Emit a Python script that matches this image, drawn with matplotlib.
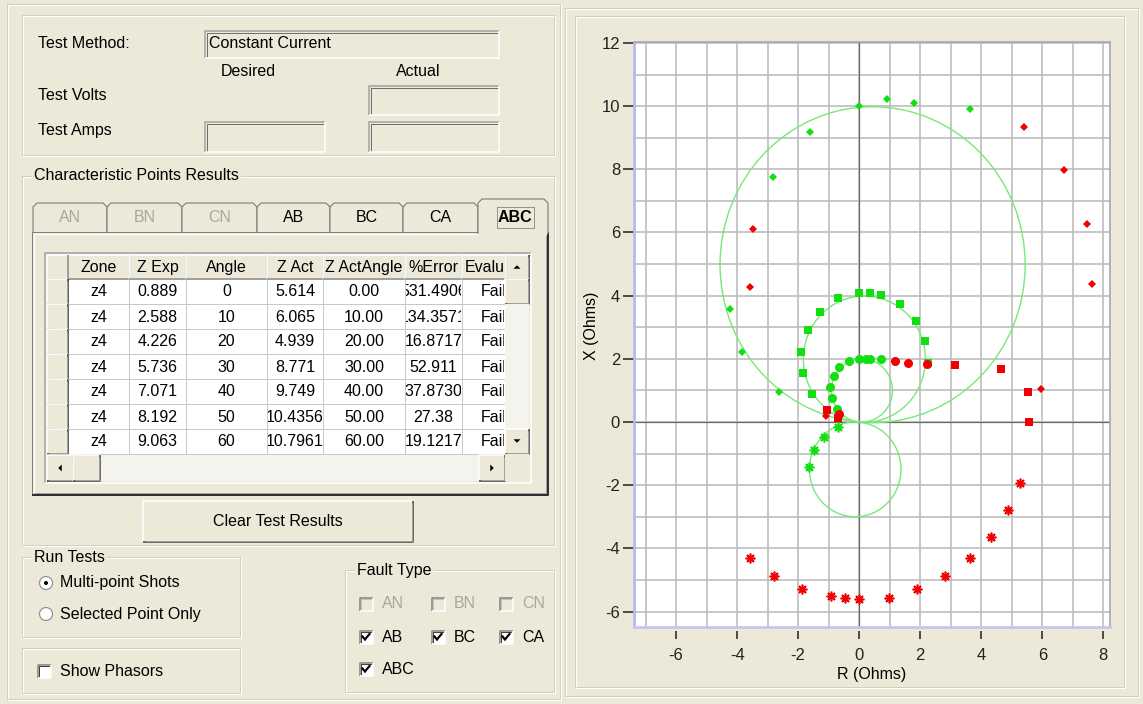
import numpy as np
import matplotlib
matplotlib.use('Agg')
import matplotlib.pyplot as plt
from matplotlib.patches import Rectangle, Circle, Polygon

plt.rcParams['font.family'] = ['Liberation Sans', 'DejaVu Sans']

# ---- colours of the old windows look
BG = '#ECE9D8'
DIS = '#ACA899'
LINE = '#D0D0BF'

# ---- table data (ABC tab)
zones = ['z4', 'z4', 'z4', 'z4', 'z4', 'z4', 'z4']
z_exp = ['0.889', '2.588', '4.226', '5.736', '7.071', '8.192', '9.063']
angles = ['0', '10', '20', '30', '40', '50', '60']
z_act = ['5.614', '6.065', '4.939', '8.771', '9.749', '10.4356', '10.7961']
z_act_angle = ['0.00', '10.00', '20.00', '30.00', '40.00', '50.00', '60.00']
pct_error = ['531.4906', '134.3571', '16.8717', '52.911', '37.8730', '27.38', '19.1217']
evals = ['Fail', 'Fail', 'Fail', 'Fail', 'Fail', 'Fail', 'Fail']
headers = ['Zone', 'Z Exp', 'Angle', 'Z Act', 'Z ActAngle', '%Error', 'Evaluation']
tabs = ['AN', 'BN', 'CN', 'AB', 'BC', 'CA', 'ABC']
tab_enabled = [False, False, False, True, True, True, True]

# ---- impedance plane data (R, X in ohms)
circle_cx = [0.44, 0.17, 0.09, -0.13]
circle_cy = [4.98, 1.99, 1.00, -1.50]
circle_r = [5.0, 2.0, 1.0, 1.5]

green_diamond_r = [0.00, 0.91, 1.81, 3.62, -1.60, -2.83, -4.23, -3.83, -2.64]
green_diamond_x = [10.00, 10.21, 10.10, 9.92, 9.18, 7.77, 3.59, 2.22, 0.96]
green_square_r = [0.00, 0.37, 0.70, 1.35, 1.86, 2.15, 2.27, -0.69, -1.29, -1.69, -1.90, -1.85, -1.55]
green_square_x = [4.07, 4.07, 4.02, 3.74, 3.20, 2.56, 1.88, 3.93, 3.48, 2.91, 2.22, 1.54, 0.88]
green_circle_r = [0.00, 0.21, 0.36, 0.70, -0.34, -0.66, -0.84, -0.96, -0.90, -0.74]
green_circle_x = [1.98, 1.98, 1.98, 1.98, 1.93, 1.75, 1.46, 1.10, 0.77, 0.42]
green_star_r = [-0.68, -1.14, -1.49, -1.64]
green_star_x = [-0.17, -0.47, -0.89, -1.43]

red_diamond_r = [5.41, 6.71, 7.45, 7.62, -3.48, -3.59, 5.96, -1.09]
red_diamond_x = [9.33, 7.97, 6.26, 4.37, 6.11, 4.26, 1.05, 0.19]
red_square_r = [5.58, 5.52, 4.65, 3.15, -1.04, -0.68]
red_square_x = [0.00, 0.96, 1.69, 1.79, 0.38, 0.14]
red_circle_r = [1.16, 1.61, 2.22, -0.66]
red_circle_x = [1.93, 1.88, 1.84, 0.25]
red_star_r = [-3.59, -2.79, -1.88, -0.94, -0.48, 0.00, 0.97, 1.91, 2.81, 3.62, 4.31, 4.88, 5.28]
red_star_x = [-4.31, -4.89, -5.28, -5.51, -5.56, -5.61, -5.56, -5.28, -4.89, -4.31, -3.63, -2.78, -1.92]

xtick_vals = [-6, -4, -2, 0, 2, 4, 6, 8]
ytick_vals = [-6, -4, -2, 0, 2, 4, 6, 8, 10, 12]

W, H = 1143, 704
PX = 0.72  # one pixel in points
FS = 11.5

fig = plt.figure(figsize=(W / 100, H / 100), dpi=100)
fig.patch.set_facecolor(BG)

# gui layer in pixel coordinates
gui = fig.add_axes([0, 0, 1, 1], zorder=0)
gui.set_xlim(0, W)
gui.set_ylim(H, 0)
gui.axis('off')


def line(xs, ys, c, w=1, z=2):
    gui.plot(xs, ys, color=c, lw=w * PX, solid_capstyle='butt', zorder=z)


def etched(x0, y0, x1, y1, label=None, z=1):
    line([x0 + 1, x1 + 1, x1 + 1, x0 + 1, x0 + 1], [y0 + 1, y0 + 1, y1 + 1, y1 + 1, y0 + 1], 'white', z=z)
    line([x0, x1, x1, x0, x0], [y0, y0, y1, y1, y0], LINE, z=z)
    if label:
        gui.text(x0 + 12, y0, label, fontsize=FS, va='center', ha='left', zorder=z + 1,
                 bbox=dict(fc=BG, ec='none', pad=1.5))


def sunken(x0, y0, x1, y1, fill=BG, z=2):
    gui.add_patch(Rectangle((x0, y0), x1 - x0, y1 - y0, fc=fill, ec='none', zorder=z))
    line([x0, x0, x1], [y1, y0, y0], '#A0A0A0', 1.5, z)
    line([x0 + 1.5, x0 + 1.5, x1 - 1], [y1 - 1, y0 + 1.5, y0 + 1.5], '#6E6E6E', 1, z)
    line([x0, x1, x1], [y1, y1, y0], 'white', 1.5, z)


def raised(x0, y0, x1, y1, fill=BG, z=3, dark='#404040'):
    gui.add_patch(Rectangle((x0, y0), x1 - x0, y1 - y0, fc=fill, ec='none', zorder=z))
    line([x0, x0, x1], [y1, y0, y0], 'white', 1.5, z)
    line([x0, x1, x1], [y1, y1, y0], dark, 1.5, z)
    line([x0 + 1.5, x1 - 1.5, x1 - 1.5], [y1 - 1.5, y1 - 1.5, y0 + 1.5], '#A0A0A0', 1, z)


def arrow(cx, cy, d, z=7):
    s = 3.5
    pts = {'up': [(cx - s, cy + s / 2), (cx + s, cy + s / 2), (cx, cy - s / 2)],
           'down': [(cx - s, cy - s / 2), (cx + s, cy - s / 2), (cx, cy + s / 2)],
           'left': [(cx + s / 2, cy - s), (cx + s / 2, cy + s), (cx - s / 2, cy)],
           'right': [(cx - s / 2, cy - s), (cx - s / 2, cy + s), (cx + s / 2, cy)]}[d]
    gui.add_patch(Polygon(pts, closed=True, fc='black', ec='none', zorder=z))


def checkbox(cx, cy, label, checked, enabled=True):
    x0, y0, s = cx - 6.5, cy - 6.5, 13
    fill = 'white' if enabled else BG
    gui.add_patch(Rectangle((x0, y0), s, s, fc=fill, ec='none', zorder=3))
    line([x0, x0, x0 + s], [y0 + s, y0, y0], '#808080', 1.5, 3)
    line([x0 + 1.5, x0 + 1.5, x0 + s - 1], [y0 + s - 1, y0 + 1.5, y0 + 1.5],
         '#404040' if enabled else '#C0C0C0', 1, 3)
    line([x0, x0 + s, x0 + s], [y0 + s, y0 + s, y0], 'white', 1.5, 3)
    if checked:
        gui.plot([cx - 3.5, cx - 1, cx + 3.5], [cy - 0.5, cy + 2.5, cy - 3], color='black',
                 lw=2.2 * PX, zorder=4, solid_joinstyle='miter')
    gui.text(cx + 16, cy, label, fontsize=FS, va='center', ha='left',
             color='black' if enabled else DIS, zorder=4)


def radio(cx, cy, label, selected):
    gui.add_patch(Circle((cx, cy), 6.5, fc='white', ec='#909090', lw=1.2 * PX, zorder=3))
    if selected:
        gui.add_patch(Circle((cx, cy), 2, fc='black', ec='none', zorder=4))
    gui.text(cx + 14, cy, label, fontsize=FS, va='center', ha='left', zorder=4)


def cell_text(x, y, s, clip_box, ha='center', **kw):
    t = gui.text(x, y, s, fontsize=FS, ha=ha, va='center', zorder=6, clip_on=True, **kw)
    t.set_clip_path(Rectangle(clip_box[:2], clip_box[2], clip_box[3], transform=gui.transData))
    return t


# ---- left panel frame
etched(7, 4, 560, 699)

# test method group
etched(22, 15, 554, 155)
gui.text(38, 44, 'Test Method:', fontsize=FS, va='center')
sunken(205, 31, 499, 58)
gui.text(209, 44, 'Constant Current', fontsize=FS, va='center', zorder=4)
gui.text(248, 72, 'Desired', fontsize=FS, va='center', ha='center')
gui.text(418, 72, 'Actual', fontsize=FS, va='center', ha='center')
gui.text(38, 95, 'Test Volts', fontsize=FS, va='center')
sunken(369, 86, 499, 115)
gui.text(38, 131, 'Test Amps', fontsize=FS, va='center')
sunken(205, 122, 325, 152)
sunken(369, 122, 499, 152)

# characteristic points group
etched(22, 176, 554, 545, 'Characteristic Points Results')

# tab panel
px0, py0, px1, py1 = 32, 232, 548, 495
gui.add_patch(Rectangle((px0, py0), px1 - px0, py1 - py0, fc=BG, ec='none', zorder=2))
line([px0, px0, px1], [py1, py0, py0], '#808080', 1, 3)
line([px0 + 1.5, px0 + 1.5, px1 - 2], [py1 - 2, py0 + 1.5, py0 + 1.5], 'white', 1.2, 3)
line([px0, px1, px1], [py1, py1, py0], '#303030', 2, 3)
line([px0 + 2, px1 - 2.5, px1 - 2.5], [py1 - 2.5, py1 - 2.5, py0 + 2], '#A0A0A0', 1, 3)

tab_edges = [33, 107, 182, 257, 330, 403, 478, 548]
for i, name in enumerate(tabs):
    x0, x1 = tab_edges[i], tab_edges[i + 1]
    sel = (i == len(tabs) - 1)
    yt, yb = (199, 234) if sel else (203, 232)
    pts = [(x0, yb), (x0, yt + 4), (x0 + 4, yt), (x1 - 4, yt), (x1, yt + 4), (x1, yb)]
    gui.add_patch(Polygon(pts, closed=False, fc=BG, ec='#7A7A7A', lw=1.1 * PX, zorder=4 if sel else 3))
    if sel:
        gui.add_patch(Rectangle((x0 + 1, yb - 3), x1 - x0 - 2, 5, fc=BG, ec='none', zorder=4))
        gui.text((x0 + x1) / 2 + 2, 217, name, fontsize=FS, fontweight='bold', ha='center',
                 va='center', zorder=5)
        gui.add_patch(Rectangle((x0 + 19, 207), 37, 21, fill=False, ec='#404040', lw=1 * PX,
                                ls=(0, (1, 1)), zorder=5))
    else:
        gui.text((x0 + x1) / 2, 218, name, fontsize=FS, ha='center', va='center',
                 color='black' if tab_enabled[i] else DIS, zorder=4)

# grid table
col_x = [47, 68, 129, 186, 267, 323, 405, 462, 532]
vis_right = 505
head_y0, head_y1 = 255, 279
row_h = 25
rows_y = [head_y1 + row_h * i for i in range(8)]
grid_bottom = 455

sunken(45, 253, 531, 483, fill=BG, z=3)
gui.add_patch(Rectangle((col_x[1], head_y1), vis_right - col_x[1], grid_bottom - head_y1,
                        fc='white', ec='none', zorder=4))

columns = [zones, z_exp, angles, z_act, z_act_angle, pct_error, evals]
for j in range(len(headers)):
    x0, x1 = col_x[j + 1], min(col_x[j + 2], vis_right)
    raised(x0, head_y0, x1, head_y1, z=4, dark='#808080')
    box = (x0 + 1, head_y0, x1 - x0 - 2, head_y1 - head_y0)
    if headers[j] == 'Evaluation':
        cell_text(x0 + 3, (head_y0 + head_y1) / 2 + 0.5, headers[j], box, ha='left')
    else:
        cell_text((col_x[j + 1] + col_x[j + 2]) / 2, (head_y0 + head_y1) / 2 + 0.5, headers[j], box)
    # column data
    for i, val in enumerate(columns[j]):
        y0 = rows_y[i]
        cx = (col_x[j + 1] + col_x[j + 2]) / 2
        if headers[j] == 'Evaluation':
            cx = 494
        cell_text(cx, y0 + row_h / 2 + 0.5, val, (x0 + 1, y0, x1 - x0 - 2, row_h))
    line([x1, x1], [head_y1, grid_bottom], '#C8C8C8', 1, 5)

# horizontal row lines
for y in rows_y[1:]:
    line([col_x[1], vis_right], [y, y], '#C8C8C8', 1, 5)
# row header column
raised(col_x[0], head_y0, col_x[1], head_y1, z=4, dark='#808080')
for y in rows_y[:-1]:
    raised(col_x[0], y, col_x[1], min(y + row_h, grid_bottom), z=4, dark='#303030')

# vertical scrollbar
raised(505, 255, 529, 279, z=6)
arrow(517, 267, 'up')
raised(505, 279, 529, 304, z=6)
gui.add_patch(Rectangle((505, 304), 24, 125, fc='#F4F3EE', ec='none', zorder=6))
raised(505, 429, 529, 454, z=6)
arrow(517, 441, 'down')
# horizontal scrollbar
gui.add_patch(Rectangle((47, 455), 458, 26, fc='#F4F3EE', ec='none', zorder=6))
raised(47, 455, 73, 481, z=6)
arrow(60, 468, 'left')
raised(73, 455, 100, 481, z=6)
raised(479, 455, 505, 481, z=6)
arrow(492, 468, 'right')
gui.add_patch(Rectangle((505, 454), 24, 27, fc=BG, ec='none', zorder=6))

# button
raised(143, 501, 413, 542, z=4)
gui.text(278, 521, 'Clear Test Results', fontsize=FS, ha='center', va='center', zorder=5)

# run tests group
etched(22, 557, 240, 637, 'Run Tests')
radio(46, 583, 'Multi-point Shots', True)
radio(46, 614, 'Selected Point Only', False)

etched(22, 648, 240, 693)
checkbox(44, 671, 'Show Phasors', False)

etched(345, 570, 554, 692, 'Fault Type')
checkbox(366, 604, 'AN', False, False)
checkbox(438, 604, 'BN', False, False)
checkbox(506, 604, 'CN', False, False)
checkbox(366, 637, 'AB', True)
checkbox(438, 637, 'BC', True)
checkbox(506, 637, 'CA', True)
checkbox(366, 669, 'ABC', True)

# ---- right panel frames
etched(565, 8, 1138, 696)
etched(575, 16, 1124, 687)

# ---- impedance plot
left, right, top, bottom = 634, 1110, 42, 627
ax = fig.add_axes([left / W, 1 - bottom / H, (right - left) / W, (bottom - top) / H], zorder=2)
ax.set_facecolor('white')
ax.set_xlim(-7.38, 8.22)
ax.set_ylim(-6.49, 12.03)
ax.set_xticks(xtick_vals)
ax.set_yticks(ytick_vals)
ax.set_xticks(np.arange(-7, 9), minor=True)
ax.set_yticks(np.arange(-6, 13), minor=True)
ax.set_axisbelow(True)
ax.grid(which='both', color='#BDBDBD', lw=1.2)
ax.axhline(0, color='#6A6A6A', lw=0.9, zorder=1)
ax.axvline(0, color='#6A6A6A', lw=0.9, zorder=1)
ax.tick_params(which='minor', length=0)
ax.tick_params(axis='x', which='major', length=6, width=1.2, color='#303030', pad=6,
               labelsize=12, labelcolor='#222222')
ax.tick_params(axis='y', which='major', length=8, width=1.2, color='#303030', pad=2,
               labelsize=12, labelcolor='#222222')
ax.spines['left'].set_color('#B8B8F4')
ax.spines['left'].set_linewidth(2)
for s in ['top', 'right']:
    ax.spines[s].set_color('#A8A8A8')
    ax.spines[s].set_linewidth(1.2)
ax.spines['bottom'].set_position(('outward', 3))
ax.spines['bottom'].set_visible(False)
ax.plot([0, 1], [0, 0], transform=ax.transAxes, color='#C4C4F8', lw=2, clip_on=False, zorder=3)
ax.set_yticklabels([str(v) if v >= 0 else '-' + str(-v) for v in ytick_vals])
ax.set_xticklabels([str(v) if v >= 0 else '-' + str(-v) for v in xtick_vals])
ax.set_xlabel('R (Ohms)', fontsize=FS)
ax.set_ylabel('X (Ohms)', fontsize=FS)
ax.xaxis.set_label_coords(0.5, -0.068)
ax.yaxis.set_label_coords(-0.074, 0.515)

for cx, cy, r in zip(circle_cx, circle_cy, circle_r):
    ax.add_patch(Circle((cx, cy), r, fill=False, ec='#78E878', lw=1.0, zorder=2))

GREEN = '#10E010'
RED = '#F00000'
ax.plot(green_diamond_r, green_diamond_x, 'D', color=GREEN, ms=4.2, mew=0, zorder=4)
ax.plot(green_square_r, green_square_x, 's', color=GREEN, ms=6, mew=0, zorder=4)
ax.plot(green_circle_r, green_circle_x, 'o', color=GREEN, ms=6.5, mew=0, zorder=4)
ax.plot(green_star_r, green_star_x, ls='none', marker=(8, 2, 0), color=GREEN, ms=7, mew=1.2, zorder=4)
ax.plot(red_diamond_r, red_diamond_x, 'D', color=RED, ms=4.2, mew=0, zorder=5)
ax.plot(red_square_r, red_square_x, 's', color=RED, ms=6, mew=0, zorder=5)
ax.plot(red_circle_r, red_circle_x, 'o', color=RED, ms=6.5, mew=0, zorder=5)
ax.plot(red_star_r, red_star_x, ls='none', marker=(8, 2, 0), color=RED, ms=7, mew=1.2, zorder=5)

fig.savefig('out.png', dpi=100, facecolor=BG)
